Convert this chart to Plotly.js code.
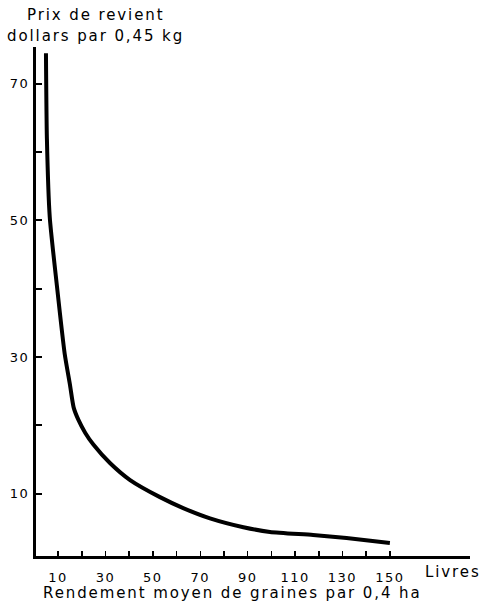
<!DOCTYPE html>
<html>
<head>
<meta charset="utf-8">
<script src="https://cdn.plot.ly/plotly-3.0.1.min.js"></script>
<style>
html, body { margin: 0; padding: 0; background: #fff; }
#chart { width: 490px; height: 613px; }
.annotation-text { letter-spacing: 1.9px; }
.xtick text, .ytick text { letter-spacing: 1.5px; }
</style>
</head>
<body>
<div id="chart"></div>
<script>
// Yield (lb per 0.4 ha) and cost (dollars per 0.45 kg)
const yieldLb = [4.9, 5.3, 6.5, 9.5, 12.8, 15.0, 16.6, 18.6, 21.5, 24.9, 31.9, 40.4, 53.0, 62.8, 74.1, 88.2, 99.4, 117.6, 131.7, 150];
const costUsd = [74.5, 62.0, 50.5, 40.5, 30.5, 26.0, 22.6, 20.8, 18.9, 17.2, 14.5, 12.0, 9.5, 7.9, 6.4, 5.1, 4.4, 3.95, 3.5, 2.8];

const xTickVals = [10, 20, 30, 40, 50, 60, 70, 80, 90, 100, 110, 120, 130, 140, 150];
const xTickText = ['10', '', '30', '', '50', '', '70', '', '90', '', '110', '', '130', '', '150'];
const yTickVals = [10, 20, 30, 40, 50, 60, 70];
const yTickText = ['10', '', '30', '', '50', '', '70'];

const yTitle1 = 'Prix de revient';
const yTitle2 = 'dollars par 0,45 kg';
const xTitle = 'Rendement moyen de graines par 0,4 ha';
const xUnit = 'Livres';

const W = 490, H = 613;
const M = {l: 36, r: 20, t: 47, b: 57};
const pw = W - M.l - M.r, ph = H - M.t - M.b;
const px = v => (v - M.l) / pw;
const py = v => (H - M.b - v) / ph;

const font = 'DejaVu Sans, sans-serif';

const trace = {
  x: yieldLb, y: costUsd, type: 'scatter', mode: 'lines',
  line: {color: '#000', width: 4, shape: 'spline', smoothing: 0.6},
  hoverinfo: 'skip'
};

const layout = {
  width: W, height: H,
  margin: M,
  paper_bgcolor: '#fff', plot_bgcolor: '#fff',
  showlegend: false,
  font: {family: font, color: '#000', size: 13},
  xaxis: {
    range: [0.7, 183.8],
    showgrid: false, zeroline: false,
    showline: true, linecolor: '#000', linewidth: 3,
    ticks: 'inside', ticklen: 5, tickwidth: 1.5, tickcolor: '#000',
    tickmode: 'array', tickvals: xTickVals, ticktext: xTickText,
    tickfont: {family: font, size: 13, color: '#000'},
    ticklabelstandoff: 7
  },
  yaxis: {
    range: [0.88, 75.4],
    showgrid: false, zeroline: false,
    showline: true, linecolor: '#000', linewidth: 3,
    ticks: 'inside', ticklen: 6, tickwidth: 2, tickcolor: '#000',
    tickmode: 'array', tickvals: yTickVals, ticktext: yTickText,
    tickfont: {family: font, size: 13, color: '#000'},
    ticklabelstandoff: 1
  },
  annotations: [
    {text: yTitle1, xref: 'paper', yref: 'paper', x: px(25), y: py(15), xanchor: 'left', yanchor: 'middle', showarrow: false, font: {family: font, size: 15, color: '#000'}},
    {text: yTitle2, xref: 'paper', yref: 'paper', x: px(5), y: py(36), xanchor: 'left', yanchor: 'middle', showarrow: false, font: {family: font, size: 15, color: '#000'}},
    {text: xUnit, xref: 'paper', yref: 'paper', x: px(423), y: py(572), xanchor: 'left', yanchor: 'middle', showarrow: false, font: {family: font, size: 15, color: '#000'}},
    {text: xTitle, xref: 'paper', yref: 'paper', x: px(41), y: py(593), xanchor: 'left', yanchor: 'middle', showarrow: false, font: {family: font, size: 15, color: '#000'}}
  ]
};

Plotly.newPlot('chart', [trace], layout, {displayModeBar: false, staticPlot: true});
</script>
</body>
</html>
